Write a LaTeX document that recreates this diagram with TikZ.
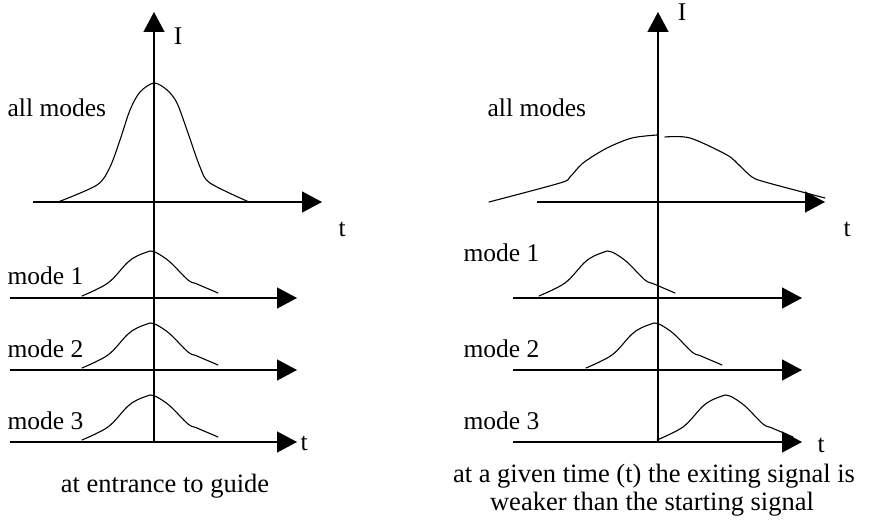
\documentclass[tikz,border=0pt]{standalone}
\usepackage{fontspec}
\setmainfont{Liberation Serif}
\usetikzlibrary{arrows.meta}
\begin{document}
\begin{tikzpicture}[x=1pt,y=-1pt,line width=1.3pt,
  axis/.style={-{Triangle[length=20pt,width=21pt]}},
  curve/.style={line width=1.1pt,line join=round,line cap=round},
  lbl/.style={inner sep=0pt,font=\fontsize{25.5}{30}\selectfont},
  captxt/.style={inner sep=0pt,font=\fontsize{26.5}{30}\selectfont}]
\useasboundingbox (0,0) rectangle (870,529);
\newcommand\mypulse[2]{%
  \draw[curve] plot[smooth,tension=0.55] coordinates {(#1-68,#2-2) (#1-42,#2-15) (#1-23,#2-35) (#1-13,#2-42) (#1,#2-47)}
    plot[smooth,tension=0.55] coordinates {(#1,#2-47) (#1+7,#2-45) (#1+20,#2-36) (#1+38,#2-18) (#1+47,#2-14) (#1+68,#2-5)};}
% ---------- left panel ----------
\coordinate (LVb) at (154,443); \coordinate (LVt) at (154,12);
\coordinate (LA0s) at (33,202);  \coordinate (LA0e) at (322,202);
\coordinate (LA1s) at (10,298);  \coordinate (LA1e) at (297,298);
\coordinate (LA2s) at (10,370);  \coordinate (LA2e) at (297,370);
\coordinate (LA3s) at (10,442);  \coordinate (LA3e) at (297,442);
\draw[axis] (LVb) -- (LVt);
\draw[axis] (LA0s) -- (LA0e);
\draw[axis] (LA1s) -- (LA1e);
\draw[axis] (LA2s) -- (LA2e);
\draw[axis] (LA3s) -- (LA3e);
\draw[curve] plot[smooth,tension=0.5] coordinates {(58,202) (97,185) (110,167) (120,140) (130,110) (140,92) (154,83) (167,90) (177,103) (188,133) (200,167) (210,183) (249,202)};
\mypulse{150}{298}
\mypulse{150}{370}
\mypulse{150}{442}
\node[lbl,anchor=base] (LI) at (178,45) {I};
\node[lbl,anchor=base west] (Lall) at (7,117) {all modes};
\node[lbl,anchor=base west] (Lt0) at (338,237) {t};
\node[lbl,anchor=base west] (Lm1) at (7,285) {mode 1};
\node[lbl,anchor=base west] (Lm2) at (7,357) {mode 2};
\node[lbl,anchor=base west] (Lm3) at (7,429) {mode 3};
\node[lbl,anchor=base west] (Lt3) at (300,450) {t};
\node[captxt,anchor=base] (Lcap) at (165,492) {at entrance to guide};
% ---------- right panel ----------
\coordinate (RVb) at (658,443); \coordinate (RVt) at (658,12);
\coordinate (RA0s) at (537,202); \coordinate (RA0e) at (825,202);
\coordinate (RA1s) at (513,298); \coordinate (RA1e) at (802,298);
\coordinate (RA2s) at (513,370); \coordinate (RA2e) at (802,370);
\coordinate (RA3s) at (513,442); \coordinate (RA3e) at (802,442);
\draw[axis] (RVb) -- (RVt);
\draw[axis] (RA0s) -- (RA0e);
\draw[axis] (RA1s) -- (RA1e);
\draw[axis] (RA2s) -- (RA2e);
\draw[axis] (RA3s) -- (RA3e);
\draw[curve] plot[smooth,tension=0.5] coordinates {(489,202) (560,183) (570,177) (583,163) (607,148) (632,138) (657,135)};
\draw[curve] plot[smooth,tension=0.5] coordinates {(665,137) (690,138) (727,155) (740,166) (752,177) (765,182) (825,198)};
\mypulse{607}{298}
\mypulse{654}{370}
\mypulse{725}{442}
\node[lbl,anchor=base] (RI) at (682,21) {I};
\node[lbl,anchor=base west] (Rall) at (487,117) {all modes};
\node[lbl,anchor=base west] (Rt0) at (843,237) {t};
\node[lbl,anchor=base west] (Rm1) at (463,262) {mode 1};
\node[lbl,anchor=base west] (Rm2) at (463,357) {mode 2};
\node[lbl,anchor=base west] (Rm3) at (463,429) {mode 3};
\node[lbl,anchor=base west] (Rt3) at (817,452) {t};
\node[captxt,anchor=base] (Rcap1) at (654,482) {at a given time (t) the exiting signal is};
\node[captxt,anchor=base] (Rcap2) at (652,510) {weaker than the starting signal};
\end{tikzpicture}
\end{document}
